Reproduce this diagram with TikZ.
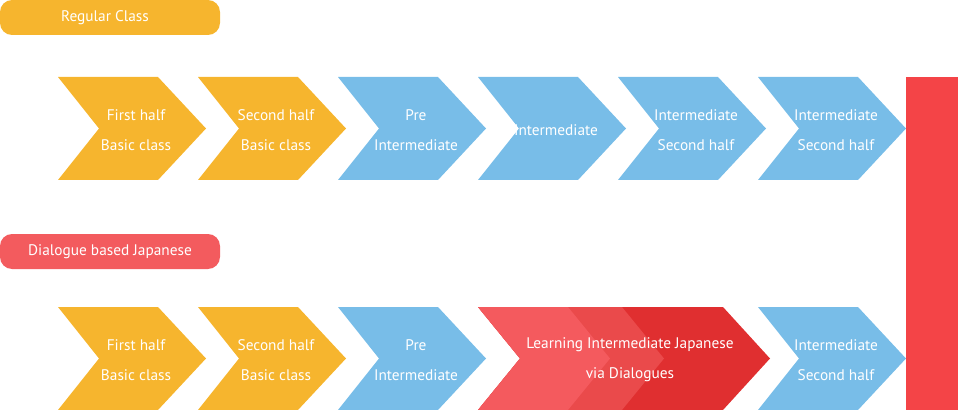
\documentclass[tikz,border=0pt]{standalone}
\usepackage{fontspec}
\setmainfont{PT Sans}
\usetikzlibrary{positioning}
\definecolor{regular}{HTML}{F6B52E}
\definecolor{level}{HTML}{78BDE8}
\definecolor{dialogue}{HTML}{F35B5E}
\definecolor{redlight}{HTML}{F45A5E}
\definecolor{redmid}{HTML}{EA4A4B}
\definecolor{reddark}{HTML}{E02F30}
\definecolor{bar}{HTML}{F44447}

\begin{document}
\begin{tikzpicture}[x=0.75pt,y=-0.75pt,
every node/.style={text=white, align=center, inner sep=0pt, font=\fontsize{11.5}{22.5}\selectfont},
tag/.style={fill=#1, rounded corners=9pt, minimum width=165pt, minimum height=26pt, font=\fontsize{11.5}{14}\selectfont}]

\useasboundingbox (0,0) rectangle (958,410);

% chevrons, top row and bottom row
\foreach \x/\c in {58/regular, 198/regular, 338/level, 478/level, 618/level, 758/level}
{ \fill[\c] (\x,77) -- ++(100,0) -- ++(48,51.5) -- ++(-48,51.5) -- ++(-100,0) -- ++(41,-51.5) -- cycle; }

\foreach \x/\c in {58/regular, 198/regular, 338/level, 758/level}
{ \fill[\c] (\x,307) -- ++(100,0) -- ++(48,51.5) -- ++(-48,51.5) -- ++(-100,0) -- ++(41,-51.5) -- cycle; }

% long red chevron, three layers
\foreach \r/\t/\c in {723/770/reddark, 622/664/redmid, 568/610/redlight}
{ \fill[\c] (478,307) -- (\r,307) -- (\t,358.5) -- (\r,410) -- (478,410) -- (520,358.5) -- cycle; }

\fill[bar] (906,77) rectangle (958,410);

% labels
\fill[regular] (0,0) [rounded corners=9pt] rectangle (220,35);
\fill[dialogue] (0,234) [rounded corners=9pt] rectangle (220,269);
\node (regular) at (105,17.5) [font=\fontsize{11.5}{14}\selectfont] {Regular Class};
\node (dialogue) at (110,251.5) [font=\fontsize{11.5}{14}\selectfont] {Dialogue based Japanese};

\node (r1) at (136,130) {First half\\Basic class};
\node (r2) at (276,130) {Second half\\Basic class};
\node (r3) at (416,130) {Pre\\Intermediate};
\node (r4) at (556,130) {Intermediate};
\node (r5) at (696,130) {Intermediate\\Second half};
\node (r6) at (836,130) {Intermediate\\Second half};

\node (d1) at (136,360) {First half\\Basic class};
\node (d2) at (276,360) {Second half\\Basic class};
\node (d3) at (416,360) {Pre\\Intermediate};
\node (d4) at (630,360) {Learning Intermediate Japanese\\via Dialogues};
\node (d5) at (836,360) {Intermediate\\Second half};

\end{tikzpicture}
\end{document}
